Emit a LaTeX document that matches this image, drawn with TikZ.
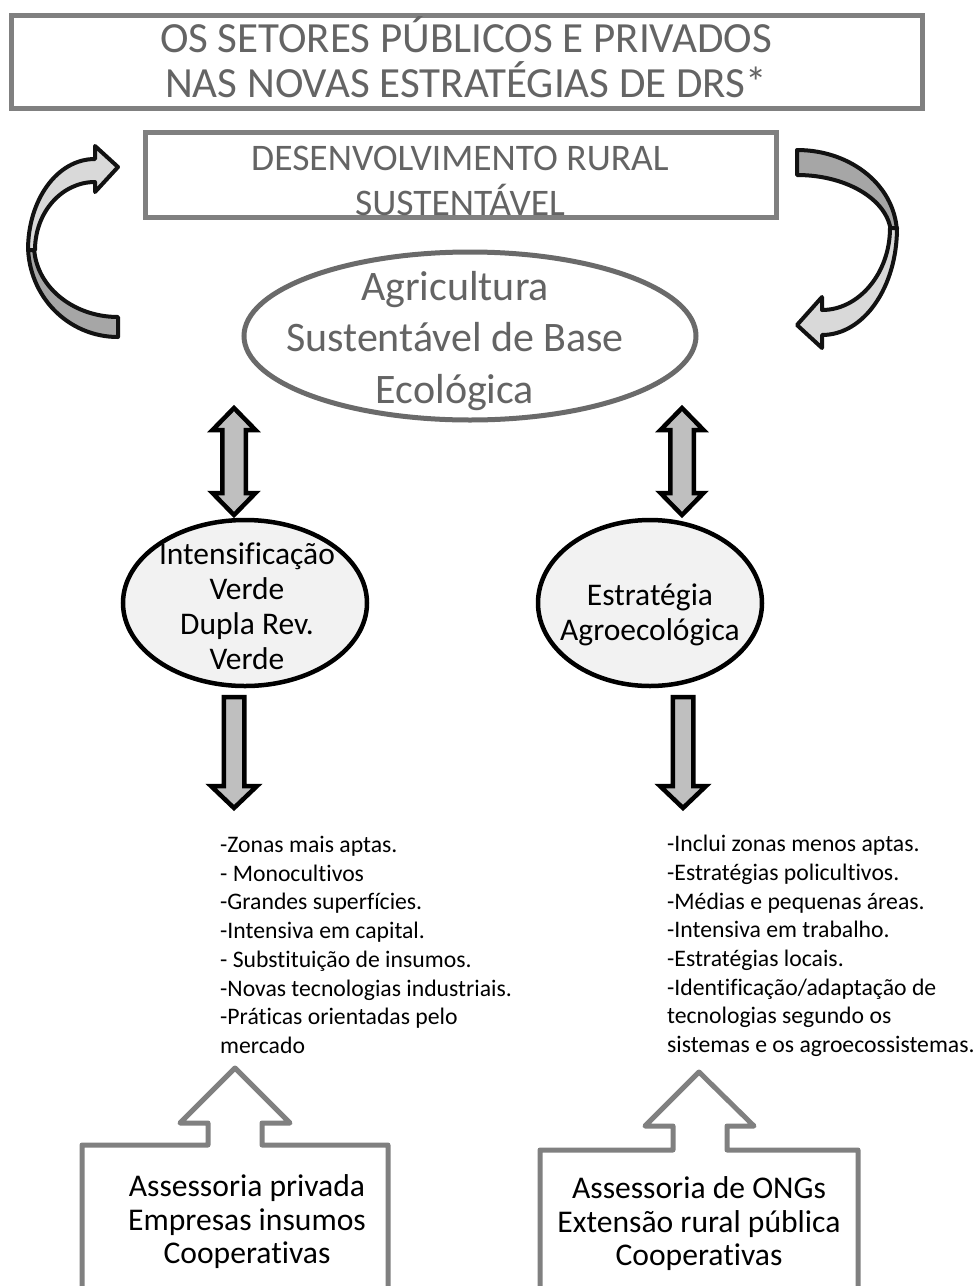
\documentclass[tikz,border=0pt]{standalone}
\usepackage{fontspec}
\setmainfont{Carlito}[Ligatures=NoCommon]
\usetikzlibrary{shapes.geometric}
\definecolor{boxgray}{HTML}{808080}
\definecolor{ovalgray}{HTML}{6A6A6A}
\definecolor{txtgray}{HTML}{646464}
\definecolor{lightfill}{HTML}{D9D9D9}
\definecolor{darkfill}{HTML}{A6A6A6}
\definecolor{arrowfill}{HTML}{BFBFBF}
\definecolor{ovalfill}{HTML}{F2F2F2}
\tikzset{
  framebox/.style={draw=boxgray, line width=5pt, rectangle, inner sep=0pt, fill=white},
  grayoval/.style={draw=ovalgray, line width=5pt, ellipse, inner sep=0pt},
  blackoval/.style={draw=black, line width=4.5pt, ellipse, fill=ovalfill, inner sep=0pt},
  blockarrow/.style={draw=black, line width=4.5pt, fill=arrowfill, line join=miter},
  bandlight/.style={draw=black!93, line width=4pt, fill=lightfill, line join=round},
  banddark/.style={draw=black!93, line width=4pt, fill=darkfill, line join=round},
  callout/.style={draw=boxgray, line width=5pt, line join=round, fill=white},
  graytext/.style={text=txtgray, align=center, inner sep=0pt},
  blacktext/.style={text=black, align=center, inner sep=0pt},
  listtext/.style={text=black, align=left, inner sep=0pt, anchor=north west,
    font=\fontsize{23.7}{28.7}\selectfont},
  sourcetext/.style={text=black, align=center, inner sep=0pt,
    font=\fontsize{31.6}{33.5}\selectfont},
}
\begin{document}
\begin{tikzpicture}[x=1pt,y=-1pt]
\path[use as bounding box, fill=white] (0,0) rectangle (980,1286);

% heading
\node[framebox, minimum width=911pt, minimum height=93pt] (titlebox) at (466.5,61.5) {};
\node[graytext, font=\fontsize{43}{45}\selectfont] (title) at (466,57)
  {OS SETORES PÚBLICOS E PRIVADOS\\NAS NOVAS ESTRATÉGIAS DE DRS*};

% sustainable rural development box
\node[framebox, minimum width=631pt, minimum height=85pt] (drsbox) at (460.5,174.5) {};
\node[graytext, font=\fontsize{37.5}{45}\selectfont] (drs) at (460,180.5)
  {DESENVOLVIMENTO RURAL\\SUSTENTÁVEL};

% curved arrow on the left (tail below, head pointing right at the top)
\draw[banddark] (28,245) .. controls (28,296) and (68,337) .. (118,337)
  -- (118,317) .. controls (72,317) and (34,285) .. (34,245) -- cycle;
\draw[bandlight] (28,250) .. controls (28,200) and (57,159) .. (95,159)
  -- (95,146) -- (118,167) -- (95,192) -- (95,182)
  .. controls (62,182) and (35,212) .. (35,250) -- cycle;

% curved arrow on the right (tail above, head pointing left at the bottom)
\draw[banddark] (797,150) .. controls (852,150) and (897,187) .. (897,235)
  -- (891,235) .. controls (891,202) and (849,175) .. (797,175) -- cycle;
\draw[bandlight] (897,228) .. controls (897,287) and (864,335) .. (822,335)
  -- (822,348) -- (797,325) -- (822,297) -- (822,310)
  .. controls (859,310) and (890,273) .. (890,228) -- cycle;

% central ellipse
\node[grayoval, minimum width=452pt, minimum height=168pt] (agri) at (470,336) {};
\node[graytext, font=\fontsize{42}{51.5}\selectfont] (agritext) at (455,341)
  {Agricultura\\Sustentável de Base\\Ecológica};

% the two strategies
\node[blackoval, minimum width=244pt, minimum height=166pt] (intens) at (245,603) {};
\node[blacktext, font=\fontsize{31.5}{35}\selectfont] (intenstext) at (247,606.5)
  {Intensificação\\Verde\\Dupla Rev.\\Verde};
\node[blackoval, minimum width=224pt, minimum height=166pt] (estrat) at (650,603) {};
\node[blacktext, font=\fontsize{31.5}{35}\selectfont] (estrattext) at (650,615)
  {Estratégia\\Agroecológica};

% two-headed links between the central ellipse and the strategies
\coordinate (lnkLtop) at (234,408);
\coordinate (lnkLbot) at (234,515);
\coordinate (lnkRtop) at (682,408);
\coordinate (lnkRbot) at (682,515);
\draw[blockarrow] (lnkLtop) -- ++(21.5,22) -- ++(-9.75,0) -- ++(0,63) -- ++(9.75,0)
  -- (lnkLbot) -- ++(-21.5,-22) -- ++(9.75,0) -- ++(0,-63) -- ++(-9.75,0) -- cycle;
\draw[blockarrow] (lnkRtop) -- ++(21.5,22) -- ++(-9.75,0) -- ++(0,63) -- ++(9.75,0)
  -- (lnkRbot) -- ++(-21.5,-22) -- ++(9.75,0) -- ++(0,-63) -- ++(-9.75,0) -- cycle;

% downward arrows to the lists
\coordinate (downL) at (234,697);
\coordinate (downR) at (683,697);
\draw[blockarrow] (downL) ++(-10.25,0) -- ++(20.5,0) -- ++(0,89) -- ++(12.75,0)
  -- ++(-23,22) -- ++(-23,-22) -- ++(12.75,0) -- cycle;
\draw[blockarrow] (downR) ++(-10.25,0) -- ++(20.5,0) -- ++(0,89) -- ++(12.75,0)
  -- ++(-23,22) -- ++(-23,-22) -- ++(12.75,0) -- cycle;

% characteristics of each strategy
\node[listtext] (listL) at (220,836)
  {-Zonas mais aptas.\\- Monocultivos\\-Grandes superfícies.\\-Intensiva em capital.\\%
   - Substituição de insumos.\\-Novas tecnologias industriais.\\-Práticas orientadas pelo\\mercado};
\node[listtext] (listR) at (667,835)
  {-Inclui zonas menos aptas.\\-Estratégias policultivos.\\-Médias e pequenas áreas.\\%
   -Intensiva em trabalho.\\-Estratégias locais.\\-Identificação/adaptação de\\%
   tecnologias segundo os\\sistemas e os agroecossistemas.};

% up-arrow callouts with the supporting actors
\coordinate (calloutL) at (235,1068);
\coordinate (calloutR) at (699,1072);
\draw[callout] (calloutL) -- ++(55,55) -- ++(-28,0) -- ++(0,22) -- ++(126,0) -- ++(0,160)
  -- ++(-306,0) -- ++(0,-160) -- ++(126,0) -- ++(0,-22) -- ++(-28,0) -- cycle;
\draw[callout] (calloutR) -- ++(55,54) -- ++(-27,0) -- ++(0,24) -- ++(131,0) -- ++(0,160)
  -- ++(-318,0) -- ++(0,-160) -- ++(133,0) -- ++(0,-24) -- ++(-28,0) -- cycle;
\node[sourcetext] (privados) at (247,1222)
  {Assessoria privada\\Empresas insumos\\Cooperativas};
\node[sourcetext] (publicos) at (699,1224)
  {Assessoria de ONGs\\Extensão rural pública\\Cooperativas};
\end{tikzpicture}
\end{document}
